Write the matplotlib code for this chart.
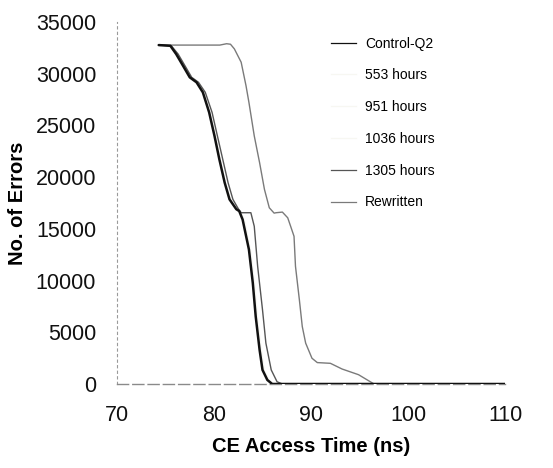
import matplotlib
matplotlib.use("Agg")
import matplotlib.pyplot as plt
from matplotlib.lines import Line2D

plt.rcParams['font.family'] = ['Liberation Sans', 'DejaVu Sans']

# CE access time (ns) and number of failing bits for each condition
control_x = [74.3, 75.5, 76.1, 76.8, 77.5, 78.2, 78.85, 79.5, 80.05, 80.55, 81.1, 81.6,
             82.3, 82.6, 82.95, 83.6, 84.0, 84.3, 84.7, 85.0, 85.5, 86.0, 110.0]
control_y = [32768, 32700, 31900, 30780, 29650, 29170, 28200, 26260, 23990, 21730, 19470, 17850,
             16900, 16720, 15900, 13000, 9770, 6530, 3300, 1360, 390, 0, 0]

h553_x = [74.3, 75.5, 76.1, 76.8, 77.5, 78.2, 78.9, 79.5, 80.1, 80.6, 81.1, 81.6,
          82.3, 82.7, 83.1, 83.7, 84.1, 84.4, 84.8, 85.1, 85.6, 86.1, 110.0]
h553_y = [32768, 32700, 31850, 30700, 29600, 29100, 28100, 26200, 23900, 21600, 19400, 17800,
          16850, 16650, 15700, 12800, 9600, 6400, 3200, 1300, 350, 0, 0]

h951_x = [74.3, 75.5, 76.2, 76.9, 77.6, 78.3, 78.9, 79.6, 80.1, 80.6, 81.2, 81.7,
          82.4, 82.7, 83.1, 83.7, 84.1, 84.4, 84.8, 85.1, 85.6, 86.1, 110.0]
h951_y = [32768, 32700, 31800, 30700, 29600, 29100, 28100, 26100, 23900, 21600, 19300, 17800,
          16850, 16650, 15700, 12800, 9600, 6400, 3200, 1300, 350, 0, 0]

h1036_x = [74.3, 75.6, 76.2, 76.9, 77.6, 78.3, 79.0, 79.6, 80.2, 80.7, 81.2, 81.7,
           82.4, 82.8, 83.2, 83.8, 84.2, 84.5, 84.9, 85.2, 85.7, 86.2, 110.0]
h1036_y = [32768, 32650, 31800, 30650, 29600, 29050, 28000, 26100, 23800, 21500, 19300, 17700,
           16800, 16600, 15600, 12700, 9500, 6300, 3100, 1250, 330, 0, 0]

h1305_x = [74.3, 75.6, 76.3, 77.0, 77.7, 78.4, 79.1, 79.8, 80.35, 80.9, 81.45, 81.95,
           82.5, 82.8, 83.8, 84.15, 84.5, 85.0, 85.35, 85.9, 86.5, 87.05, 110.0]
h1305_y = [32768, 32700, 31900, 30780, 29650, 29170, 28200, 26260, 23990, 21730, 19470, 17850,
           16950, 16560, 16560, 15250, 11380, 7180, 3950, 1360, 220, 0, 0]

rewritten_x = [74.3, 80.6, 81.3, 81.7, 82.1, 82.8, 83.3, 83.6, 84.15, 84.7, 85.2, 85.7,
               86.2, 86.4, 87.05, 87.6, 87.9, 88.25, 88.4, 88.8, 89.1, 89.45, 90.1, 90.65,
               92.0, 93.2, 94.9, 96.5, 110.0]
rewritten_y = [32768, 32768, 32900, 32850, 32400, 31110, 28840, 27230, 23990, 21400, 18820, 17040,
               16520, 16560, 16620, 16070, 15250, 14280, 11380, 8150, 5560, 3950, 2490, 2070,
               2000, 1450, 900, 0, 0]

series = [
    ("Control-Q2", control_x, control_y, "#111111", 1.8, 5),
    ("553 hours", h553_x, h553_y, "#f7f7f2", 1.0, 1),
    ("951 hours", h951_x, h951_y, "#f7f7f2", 1.0, 1),
    ("1036 hours", h1036_x, h1036_y, "#f7f7f2", 1.0, 1),
    ("1305 hours", h1305_x, h1305_y, "#555555", 1.0, 4),
    ("Rewritten", rewritten_x, rewritten_y, "#7a7a7a", 1.0, 3),
]

fig = plt.figure(figsize=(5.53, 4.68), dpi=100)
ax = fig.add_axes([117 / 553, 1 - 384 / 468, 388 / 553, 362 / 468])

for label, xs, ys, color, lw, z in series:
    ax.plot(xs, ys, color=color, lw=lw, label=label, zorder=z,
            solid_joinstyle='round', solid_capstyle='round')

ax.set_xlim(70, 110)
ax.set_ylim(0, 35000)
ax.set_xticks([70, 80, 90, 100, 110])
ax.set_yticks(range(0, 35001, 5000))
ax.tick_params(axis='both', length=0, labelsize=15.5, colors='#111111')
ax.tick_params(axis='x', pad=15)
ax.tick_params(axis='y', pad=15)

for side in ('top', 'right'):
    ax.spines[side].set_visible(False)
ax.spines['left'].set_color('#9a9a9a')
ax.spines['left'].set_linestyle((0, (2, 3)))
ax.spines['left'].set_linewidth(0.8)
ax.spines['bottom'].set_color('#8a8a8a')
ax.spines['bottom'].set_linestyle((0, (8, 3)))
ax.spines['bottom'].set_linewidth(1.0)

ax.set_xlabel("CE Access Time (ns)", fontsize=14.5, fontweight='bold', labelpad=8)
ax.set_ylabel("No. of Errors", fontsize=14.5, fontweight='bold', labelpad=6)

handles = [Line2D([0], [0], color=c, lw=0.9) for _, _, _, c, _, _ in series]
labels = [s[0] for s in series]
leg = ax.legend(handles, labels, loc='upper left', bbox_to_anchor=(325 / 553, 1 - 31 / 468),
                bbox_transform=fig.transFigure, frameon=False, fontsize=10,
                handlelength=1.8, handletextpad=0.7, labelspacing=1.28, borderaxespad=0)

fig.savefig("out.png", dpi=100)
